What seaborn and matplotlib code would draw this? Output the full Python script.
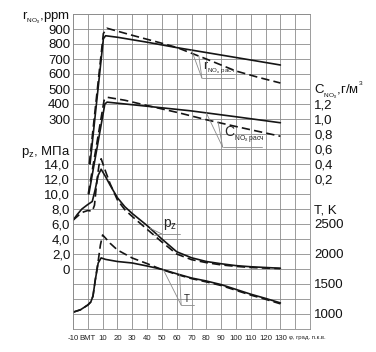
import numpy as np
import pandas as pd
import matplotlib
matplotlib.use('Agg')
import matplotlib.pyplot as plt
import seaborn as sns

# ---------------- data ----------------
# NOx concentration, ppm
deg_r_s = [1.5, 10.5, 12, 20, 40, 60, 80, 100, 130]
ppm_s = [0, 835, 855, 845, 812, 776, 743, 710, 660]
deg_r_d = [1.0, 10.5, 13, 30, 50, 60, 80, 100, 115, 130]
ppm_d = [0, 870, 905, 858, 805, 777, 700, 620, 578, 540]

# NOx mass concentration, g/m3
deg_c_s = [0.7, 11.5, 13, 40, 69, 100, 130]
c_s = [0, 1.20, 1.225, 1.17, 1.11, 1.03, 0.95]
deg_c_d = [0.3, 11, 13, 25, 40, 62, 80, 100, 130]
c_d = [0, 1.25, 1.29, 1.25, 1.18, 1.08, 0.99, 0.90, 0.77]

# cylinder pressure, MPa
deg_p_s = [-10, -7, -4, 0, 3, 5, 7, 9, 12, 15, 20, 25, 30, 40, 50, 60, 70, 80, 90, 100, 110, 120, 130]
p_s = [6.5, 7.3, 8.0, 8.6, 9.0, 10.6, 12.5, 13.3, 12.3, 11.2, 9.5, 8.3, 7.4, 5.8, 4.0, 2.3, 1.5, 1.0, 0.7, 0.45, 0.3, 0.2, 0.1]
deg_p_d = [-10, -6, -3, 0, 3, 4.5, 6, 7.5, 9, 12, 15, 20, 25, 30, 40, 50, 60, 70, 80, 90, 100, 110, 120, 130]
p_d = [6.5, 7.2, 7.6, 7.8, 7.7, 8.5, 11.5, 13.8, 14.7, 13.0, 11.4, 9.2, 7.9, 7.0, 5.3, 3.6, 2.0, 1.25, 0.85, 0.55, 0.35, 0.2, 0.12, 0.05]

# temperature, K
deg_t_s = [-10, -5, 0, 2, 3.5, 5, 7, 9, 12, 20, 30, 40, 50, 60, 70, 80, 90, 100, 110, 120, 130]
t_s = [1030, 1070, 1150, 1200, 1300, 1560, 1850, 1935, 1910, 1875, 1850, 1800, 1745, 1670, 1600, 1550, 1490, 1410, 1330, 1260, 1185]
deg_t_d = [-10, -5, 0, 2, 3.5, 5, 7, 8.5, 10, 12.5, 15, 20, 30, 40, 50, 60, 70, 80, 90, 100, 110, 120, 130]
t_d = [1030, 1070, 1150, 1200, 1300, 1560, 1880, 2150, 2317, 2250, 2180, 2067, 1933, 1840, 1740, 1660, 1590, 1535, 1475, 1395, 1315, 1245, 1170]

# tick labels
x_ticks = [-10, 0, 10, 20, 30, 40, 50, 60, 70, 80, 90, 100, 110, 120, 130]
x_labels = ['-10', 'ВМТ', '10', '20', '30', '40', '50', '60', '70', '80', '90', '100', '110', '120', '130']
ppm_ticks = [300, 400, 500, 600, 700, 800, 900]
p_ticks = [0, 2, 4, 6, 8, 10, 12, 14]
c_ticks = [0.2, 0.4, 0.6, 0.8, 1.0, 1.2]
t_ticks = [1000, 1500, 2000, 2500]

# ---------------- shared grid coordinate (1 unit = 1 grid cell) ----------------
def u_ppm(v): return 11 + np.asarray(v, float) / 100
def u_c(v): return 9 + 5 * np.asarray(v, float)
def u_p(v): return 4 + np.asarray(v, float) / 2
def u_t(v): return 1 + (np.asarray(v, float) - 1000) / 250

series = [
    ('r_s', 'solid', deg_r_s, ppm_s, u_ppm), ('r_d', 'dashed', deg_r_d, ppm_d, u_ppm),
    ('c_s', 'solid', deg_c_s, c_s, u_c), ('c_d', 'dashed', deg_c_d, c_d, u_c),
    ('p_s', 'solid', deg_p_s, p_s, u_p), ('p_d', 'dashed', deg_p_d, p_d, u_p),
    ('t_s', 'solid', deg_t_s, t_s, u_t), ('t_d', 'dashed', deg_t_d, t_d, u_t),
]
df = pd.concat([pd.DataFrame({'deg': x, 'u': f(y), 'series': n, 'kind': k})
                for n, k, x, y, f in series], ignore_index=True)

sns.set_style('white')
plt.rcParams['font.family'] = ['Liberation Sans', 'DejaVu Sans']
plt.rcParams['mathtext.fontset'] = 'custom'
plt.rcParams['mathtext.rm'] = 'Liberation Sans'
plt.rcParams['mathtext.it'] = 'Liberation Sans:italic'
plt.rcParams['mathtext.bf'] = 'Liberation Sans:bold'

fig = plt.figure(figsize=(3.76, 3.52), dpi=100)
ax = fig.add_axes([73 / 376, 23 / 352, 237 / 376, 315 / 352])

sns.lineplot(data=df, x='deg', y='u', units='series', estimator=None, style='kind',
             dashes={'solid': '', 'dashed': (5, 2.5)}, color='#151515', lw=1.2,
             sort=False, legend=False, ax=ax)

ax.set_xlim(-10, 150)
ax.set_ylim(0, 21)
ax.set_xlabel('')
ax.set_ylabel('')
ax.xaxis.remove_overlapping_locs = False
ax.yaxis.remove_overlapping_locs = False
grid_c = '#8c8c8c'
ax.set_xticks(np.arange(-10, 151, 10), minor=True)
ax.set_yticks(np.arange(0, 22, 1), minor=True)
ax.set_axisbelow(True)
ax.grid(which='minor', color=grid_c, lw=0.6)
for s in ax.spines.values():
    s.set_color(grid_c)
    s.set_linewidth(0.6)

ax.set_xticks(x_ticks, x_labels)
ax.grid(which='major', visible=False)
ax.tick_params(axis='x', which='both', length=0, labelsize=5.6, pad=4, colors='#222222')

left_pos = list(u_p(p_ticks)) + [12] + list(u_ppm(ppm_ticks)) + [21]
left_lab = ['0' if v == 0 else f'{v:.1f}'.replace('.', ',') for v in p_ticks] + \
           [r'$\mathrm{p_z}$, МПа'] + [str(v) for v in ppm_ticks] + \
           [r'$\mathrm{r_{{}_{NO_x}}}$,ppm']
ax.set_yticks(left_pos, left_lab)
ax.grid(which='major', visible=False)
ax.tick_params(axis='y', which='both', length=0, labelsize=9.5, pad=2, colors='#111111')

ax2 = ax.twinx()
ax2.set_ylim(0, 21)
right_pos = list(u_t(t_ticks)) + [8] + list(u_c(c_ticks)) + [16.15]
right_lab = [str(v) for v in t_ticks] + ['T, K'] + \
            [f'{v:.1f}'.replace('.', ',') for v in c_ticks] + \
            [r'$\mathrm{C_{{}_{NO_x}}}$,г/м$\mathrm{{}^{{}^{3}}}$']
ax2.set_yticks(right_pos, right_lab)
ax2.grid(False)
ax2.tick_params(axis='y', length=0, labelsize=9.5, pad=3, colors='#111111')
for s in ax2.spines.values():
    s.set_visible(False)

ax.annotate('φ, град. п.к.в.', xy=(130, 0), xycoords='data', xytext=(6.5, -4.5),
            textcoords='offset points', fontsize=4.3, va='top', ha='left', color='#222222')

# ---------------- leader lines and curve labels ----------------
lead_c = '#8a8a8a'
def leader(points, corner, end):
    for (x, y) in points:
        ax.plot([x, corner[0]], [y, corner[1]], color=lead_c, lw=0.6)
    ax.plot([corner[0], end], [corner[1], corner[1]], color=lead_c, lw=0.6)

# r_NOx
pts = [(70, u_ppm(np.interp(70, deg_r_s, ppm_s))), (75, u_ppm(np.interp(75, deg_r_d, ppm_d)))]
leader(pts, (77, 16.73), 99)
ax.text(78, 16.85, r'$\mathrm{r_{{}_{NO_x\ расч}}}$', fontsize=9, ha='left', va='bottom')

# C_NOx
pts = [(80, u_c(np.interp(80, deg_c_s, c_s))), (88, u_c(np.interp(88, deg_c_d, c_d)))]
leader(pts, (91, 12.13), 117.5)
ax.text(92, 12.25, r'$\mathrm{C_{{}_{NO_x\ расч}}}$', fontsize=10, ha='left', va='bottom')

# p_z
pts = [(42, u_p(np.interp(42, deg_p_s, p_s))), (45, u_p(np.interp(45, deg_p_d, p_d)))]
leader(pts, (50, 6.33), 62)
ax.text(51, 6.45, r'$\mathrm{p_z}$', fontsize=10, ha='left', va='bottom')

# T
pts = [(51, u_t(np.interp(51, deg_t_s, t_s))), (62, u_t(np.interp(62, deg_t_s, t_s)))]
leader(pts, (63, 1.6), 72)
ax.text(65, 1.7, 'T', fontsize=7, ha='left', va='bottom')

fig.savefig('out.png', dpi=100)
